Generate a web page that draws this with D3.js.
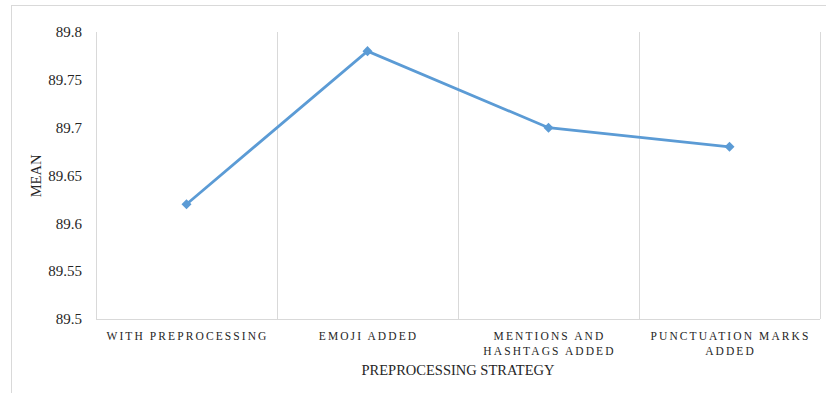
<!DOCTYPE html>
<meta charset="utf-8">
<style>
    body { margin: 0; background: #fff; }
    svg text { font-family: "Liberation Serif", "Times New Roman", serif; fill: #262626; }
    .cat { font-size: 11.5px; letter-spacing: 2.1px; }
</style>
<body>
<script src="https://d3js.org/d3.v7.min.js"></script>
<script>
    // chart data
    var categories = ["WITH PREPROCESSING", "EMOJI ADDED", "MENTIONS AND|HASHTAGS ADDED", "PUNCTUATION MARKS|ADDED"];
    var meanValues = [89.62, 89.78, 89.70, 89.68];
    var yTicks = [89.5, 89.55, 89.6, 89.65, 89.7, 89.75, 89.8];

    var W = 826, H = 393;
    var margin = { top: 32, right: 6, bottom: 74, left: 96 },
        width = 820 - margin.left,
        height = 319 - margin.top;

    var svg = d3.select("body").append("svg")
        .attr("width", W)
        .attr("height", H);

    // outer chart border
    svg.append("rect")
        .attr("x", 11.5).attr("y", 5.5)
        .attr("width", W).attr("height", H)
        .attr("fill", "none")
        .attr("stroke", "#d9d9d9");

    var g = svg.append("g")
        .attr("transform", "translate(" + margin.left + "," + margin.top + ")");

    var x = d3.scaleBand().domain(categories).range([0, width]);
    var y = d3.scaleLinear().domain([89.5, 89.8]).range([height, 0]);

    // vertical gridlines at category boundaries
    var bounds = categories.map(function (c) { return x(c); }).concat([width]);
    g.selectAll(".vgrid")
        .data(bounds)
        .enter().append("line")
        .attr("x1", d => Math.round(d) + 0.5).attr("x2", d => Math.round(d) + 0.5)
        .attr("y1", 0).attr("y2", height)
        .attr("stroke", "#d9d9d9");

    // bottom axis line
    g.append("line")
        .attr("x1", 0).attr("x2", width)
        .attr("y1", height + 0.5).attr("y2", height + 0.5)
        .attr("stroke", "#d9d9d9");

    // y axis labels
    var yAxis = d3.axisLeft(y).tickValues(yTicks).tickSize(0).tickPadding(14)
        .tickFormat(d => String(+d.toFixed(2)));
    var ya = g.append("g").attr("class", "y axis").call(yAxis);
    ya.select(".domain").remove();
    ya.attr("font-family", null).attr("font-size", null);
    ya.selectAll("text")
        .style("font-family", "'Liberation Serif', serif")
        .style("font-size", "15px")
        .style("fill", "#262626");

    // category labels
    var cat = g.selectAll(".cat")
        .data(categories)
        .enter().append("text")
        .attr("class", "cat")
        .attr("text-anchor", "middle")
        .attr("y", height + 21);
    cat.each(function (d) {
        var lines = d.split("|");
        var t = d3.select(this);
        lines.forEach(function (l, i) {
            t.append("tspan")
                .attr("x", x(d) + x.bandwidth() / 2 + 1)
                .attr("dy", i === 0 ? 0 : 15)
                .text(l);
        });
    });

    var pts = categories.map(function (c, i) { return { c: c, v: meanValues[i] }; });

    var line = d3.line()
        .x(d => x(d.c) + x.bandwidth() / 2)
        .y(d => y(d.v));

    g.append("path")
        .datum(pts)
        .attr("d", line)
        .attr("fill", "none")
        .attr("stroke", "#5b9bd5")
        .attr("stroke-width", 2.75);

    g.selectAll(".pt")
        .data(pts)
        .enter().append("path")
        .attr("class", "pt")
        .attr("d", d3.symbol().type(d3.symbolDiamond2).size(64))
        .attr("transform", d => "translate(" + (x(d.c) + x.bandwidth() / 2) + "," + y(d.v) + ")")
        .attr("fill", "#5b9bd5");

    // axis titles
    svg.append("text")
        .attr("x", 458).attr("y", 375)
        .attr("text-anchor", "middle")
        .style("font-size", "14.5px")
        .text("PREPROCESSING STRATEGY");

    svg.append("text")
        .attr("transform", "translate(41,176) rotate(-90)")
        .attr("text-anchor", "middle")
        .style("font-size", "14.5px")
        .text("MEAN");
</script>
</body>
